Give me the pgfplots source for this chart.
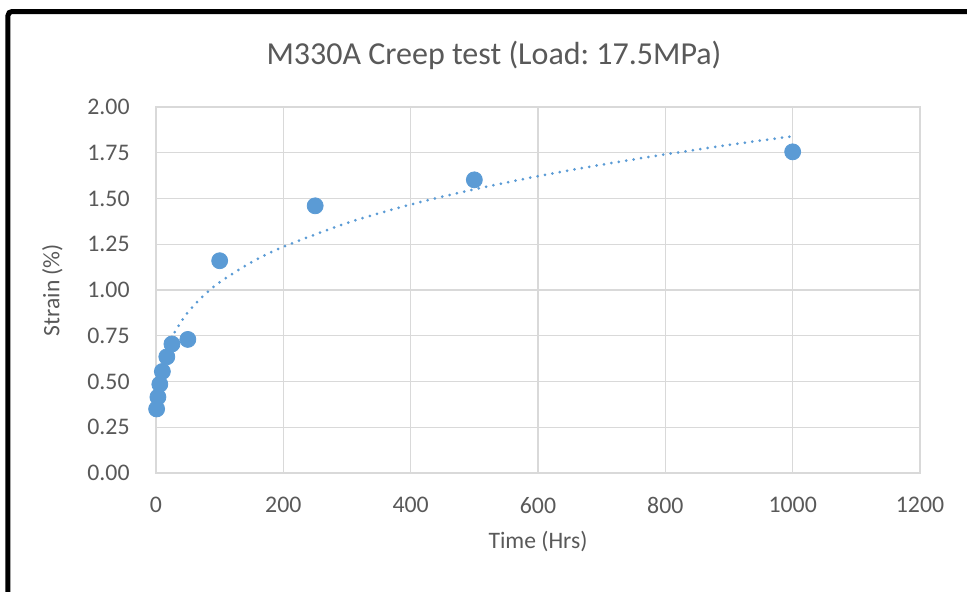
\documentclass[border=0pt]{standalone}
\usepackage{fontspec}
\setmainfont{Carlito}
\usepackage{pgfplots}
\pgfplotsset{compat=1.18}
\definecolor{ptblue}{HTML}{5B9BD5}
\definecolor{txtgray}{HTML}{595959}
\definecolor{gridgray}{HTML}{D9D9D9}

\begin{document}
\frenchspacing
\begin{tikzpicture}
% page: 967x591 px at 0.5pt per px, axis lower-left at origin
\useasboundingbox (-78pt,-59pt) rectangle (405.5pt,236.5pt);
\begin{axis}[
    at={(0,0)}, anchor=south west,
    scale only axis,
    width=382pt, height=183pt,
    xmin=0, xmax=1200, ymin=0, ymax=2,
    xtick={0,200,...,1200},
    ytick={0,0.25,...,2},
    major tick length=0pt,
    grid=major,
    grid style={gridgray, line width=0.6pt},
    axis line style={gridgray, line width=0.6pt},
    tick label style={font=\fontsize{11.9}{14}\selectfont, text=txtgray},
    xticklabel style={anchor=north, inner sep=0pt, yshift=-12pt},
    yticklabel style={anchor=east, inner sep=0pt, xshift=-13pt},
    /pgf/number format/assume math mode=true,
    /pgf/number format/1000 sep={},
    yticklabel style={/pgf/number format/.cd, fixed, fixed zerofill, precision=2},
    title={M330A Creep test (Load: 17.5MPa)},
    title style={at={(axis description cs:0.4424,1.082)}, anchor=base,
        font=\fontsize{16}{19}\selectfont, text=txtgray, inner sep=0pt},
    xlabel={Time (Hrs)},
    xlabel style={at={(axis description cs:0.5,-0.2049)}, anchor=base,
        font=\fontsize{11.8}{14}\selectfont, text=txtgray, inner sep=0pt},
    ylabel={Strain (\%)},
    ylabel style={at={(axis description cs:-0.1355,0.5)}, anchor=center, rotate=0,
        font=\fontsize{11.8}{14}\selectfont, text=txtgray, inner sep=0pt},
]
% power trendline
\addplot[ptblue, line width=1.5pt, line cap=round, dash pattern=on 0pt off 3.75pt, smooth] coordinates {
    (1,0.334) (2,0.396) (5,0.497) (10,0.590) (20,0.700) (30,0.774)
    (50,0.878) (75,0.970) (100,1.042) (150,1.152) (200,1.236)
    (300,1.366) (400,1.467) (500,1.550) (600,1.622) (700,1.685)
    (800,1.741) (900,1.793) (1000,1.840)
};
% measured strain
\addplot[only marks, mark=*, mark size=4pt, ptblue, mark options={draw=none, fill=ptblue}] coordinates {
    (1,0.350) (3,0.415) (6,0.485) (10,0.555) (17,0.635) (25,0.705)
    (50,0.730) (100,1.160) (250,1.460) (500,1.602) (1000,1.755)
};
\end{axis}
% black frame of the screenshot
\draw[line width=2.5pt, rounded corners=2pt] (-74pt,-80pt) -- (-74pt,230.75pt) -- (420pt,230.75pt);
\end{tikzpicture}
\end{document}
